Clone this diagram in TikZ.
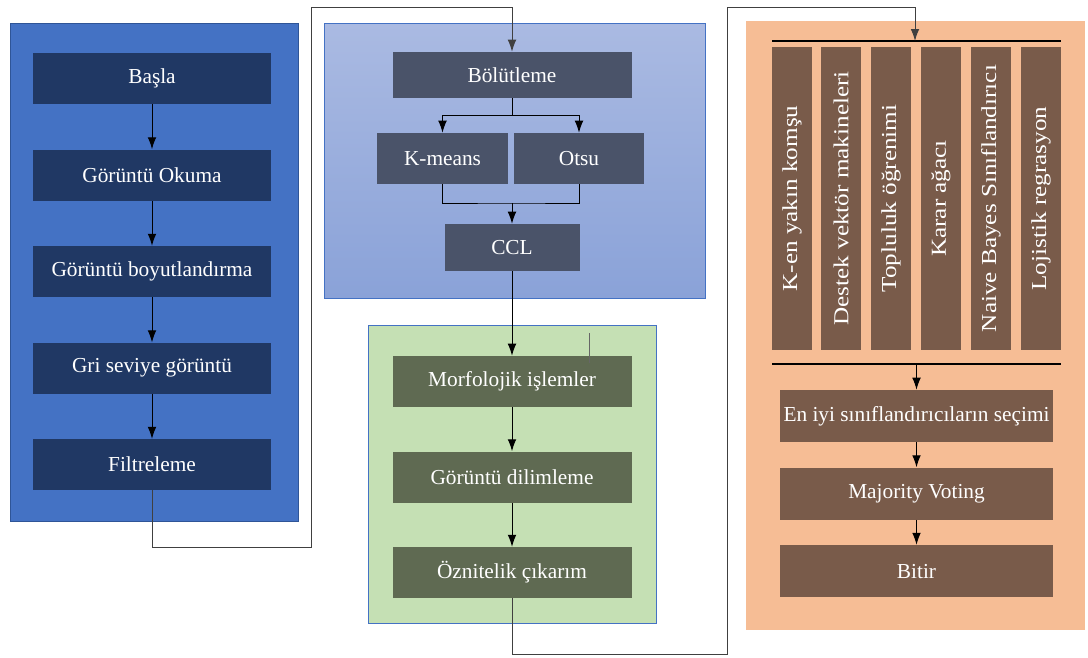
\documentclass[tikz,border=0pt]{standalone}
\usepackage{fontspec}
\setmainfont{Liberation Serif}
\usetikzlibrary{positioning,arrows.meta}
\definecolor{prepblue}{HTML}{4472C4}
\definecolor{prepline}{HTML}{2F5597}
\definecolor{navybox}{HTML}{203864}
\definecolor{segtop}{HTML}{AABAE2}
\definecolor{segbot}{HTML}{8AA2D8}
\definecolor{slatebox}{HTML}{4A5369}
\definecolor{featgreen}{HTML}{C5E0B4}
\definecolor{olivebox}{HTML}{5F6A52}
\definecolor{clforange}{HTML}{F6BD95}
\definecolor{brownbox}{HTML}{795B4A}

\begin{document}
\begin{tikzpicture}[x=0.75pt, y=-0.75pt,
  box/.style = {text=white, inner sep=0pt, font=\fontsize{16}{19}\selectfont},
  navy/.style = {box, fill=navybox, minimum width=178.5pt, minimum height=38.25pt},
  slate/.style = {box, fill=slatebox},
  olive/.style = {box, fill=olivebox, minimum width=179.25pt, minimum height=38.25pt},
  brown/.style = {box, fill=brownbox, minimum width=204.75pt, minimum height=39pt},
  algo/.style = {box, fill=brownbox, rotate=90, minimum width=227.25pt, minimum height=30pt},
  arr/.style = {-{Latex[length=9pt,width=6.5pt]}, line width=0.75pt},
  link/.style = {draw=black!75, line width=0.9pt}]
\useasboundingbox (0,0) rectangle (1088,657);

% panels
\draw[fill=prepblue, draw=prepline] (10,23) rectangle (298,521);
\draw[top color=segtop, bottom color=segbot, draw=prepblue] (324,23) rectangle (705,298);
\draw[fill=featgreen, draw=prepblue] (368,325) rectangle (656,623);
\fill[clforange] (746,21) rectangle (1085,630);

% on isleme
\node[navy] (basla) at (152,78.5) {Başla};
\node[navy, below=33.75pt of basla] (okuma) {Görüntü Okuma};
\node[navy, below=33.75pt of okuma] (boyut) {Görüntü boyutlandırma};
\node[navy, below=33.75pt of boyut] (gri) {Gri seviye görüntü};
\node[navy, below=33.75pt of gri] (filt) {Filtreleme};

\draw[arr] (basla) -- (okuma);
\draw[arr] (okuma) -- (boyut);
\draw[arr] (boyut) -- (gri);
\draw[arr] (gri) -- (filt);

% bolutleme
\node[slate, minimum width=179.25pt, minimum height=34.5pt] (bolut) at (512,75) {Bölütleme};
\node[slate, minimum width=98.25pt, minimum height=38.25pt] (kmeans) at (442.5,158.5) {K-means};
\node[slate, minimum width=97.5pt, minimum height=38.25pt] (otsu) at (579,158.5) {Otsu};
\node[slate, minimum width=101.25pt, minimum height=35.25pt] (ccl) at (512,247.5) {CCL};

\draw (bolut.south) -- ++(0,17) coordinate (split);
\draw[arr] (split) -| (kmeans.north);
\draw[arr] (split) -| (otsu.north);
\coordinate (merge) at (512,203);
\draw (kmeans.south) |- (merge) -| (otsu.south);
\draw[arr] (merge) -- (ccl.north);

% oznitelik
\node[olive] (morf) at (512,381.5) {Morfolojik işlemler};
\node[olive, below=33pt of morf] (dilim) {Görüntü dilimleme};
\node[olive, below=33pt of dilim] (oznit) {Öznitelik çıkarım};

\draw[arr] (ccl.south) -- (morf.north);
\draw[arr] (morf) -- (dilim);
\draw[arr] (dilim) -- (oznit);
\draw[black!60] (589,333) -- (589,363);

% siniflandirma
\coordinate (topL) at (772,41);
\coordinate (topR) at (1061,41);
\coordinate (clfIn) at (915,41);
\coordinate (botL) at (772,364);
\coordinate (botR) at (1061,364);
\draw[line width=1.1pt] (topL) -- (topR);
\draw[line width=1.1pt] (botL) -- (botR);

\node[algo] (knn) at (792,198.5) {\scalebox{1.18}[1]{K-en yakın komşu}};
\node[algo] (svm) at (841,198.5) {\scalebox{1.18}[1]{Destek vektör makineleri}};
\node[algo] (ens) at (891,198.5) {\scalebox{1.18}[1]{Topluluk öğrenimi}};
\node[algo] (dt) at (941,198.5) {\scalebox{1.18}[1]{Karar ağacı}};
\node[algo] (nb) at (991,198.5) {\scalebox{1.18}[1]{Naive Bayes Sınıflandırıcı}};
\node[algo] (lr) at (1041,198.5) {\scalebox{1.18}[1]{Lojistik regrasyon}};

\node[brown] (eniyi) at (916.5,416) {En iyi sınıflandırıcıların seçimi};
\node[brown, below=18.75pt of eniyi] (major) {Majority Voting};
\node[brown, below=18.75pt of major] (bitir) {Bitir};

\draw[arr] (eniyi.north |- botL) -- (eniyi.north);
\draw[arr] (eniyi) -- (major);
\draw[arr] (major) -- (bitir);

% baglantilar
\draw[link, arr] (filt.south) -- ++(0,57) -| (311,7) -| (bolut.north);
\draw[link, arr] (oznit.south) -- ++(0,56) -| (727,7) -| (clfIn);
\end{tikzpicture}
\end{document}
